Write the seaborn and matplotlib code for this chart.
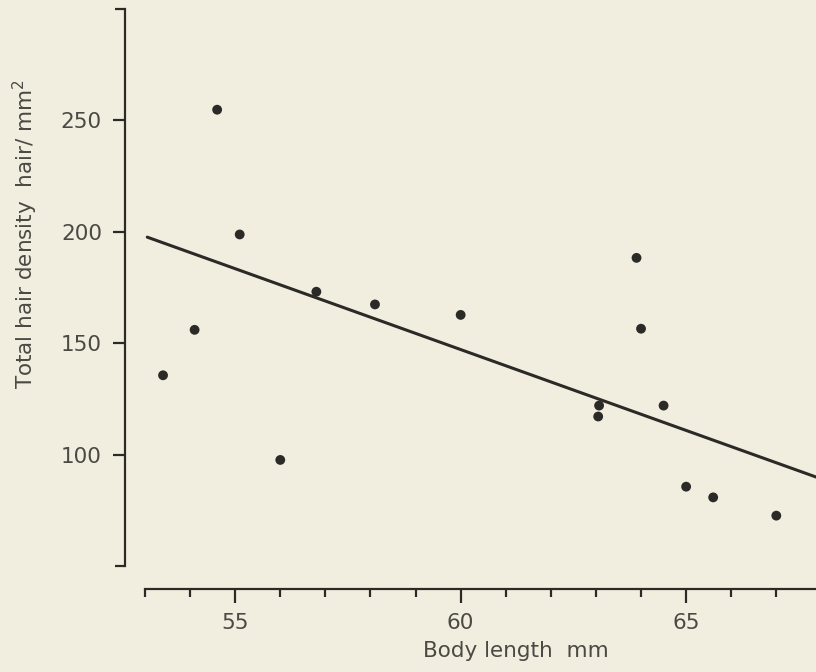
import numpy as np
import pandas as pd
import matplotlib

matplotlib.use("Agg")
import matplotlib.pyplot as plt
from matplotlib.ticker import FixedLocator
import seaborn as sns

# values
body_length = [53.4, 54.1, 54.6, 55.1, 56.0, 56.8, 58.1, 60.0,
               63.05, 63.07, 63.9, 64.0, 64.5, 65.0, 65.6, 67.0]
hair_density = [135.6, 156.0, 254.8, 198.8, 97.6, 173.1, 167.4, 162.7,
                117.1, 122.0, 188.3, 156.5, 122.0, 85.6, 80.8, 72.6]

# regression line as printed (end points)
fit_length = [53.05, 67.9]
fit_density = [197.6, 89.8]

x_major = [55, 60, 65]
x_minor = list(range(53, 68))
y_major = [100, 150, 200, 250]
y_ends = [50, 300]

paper = '#f2eedf'
ink = '#2c2a27'
text_col = '#4a4944'

sns.set_theme(style='ticks')
plt.rcParams.update({
    'font.family': ['DejaVu Sans'],
    'font.size': 15.5,
    'mathtext.fontset': 'dejavusans',
    'figure.facecolor': paper,
    'axes.facecolor': paper,
    'axes.edgecolor': ink,
    'axes.linewidth': 1.6,
    'xtick.color': ink,
    'ytick.color': ink,
    'xtick.labelcolor': text_col,
    'ytick.labelcolor': text_col,
    'text.color': text_col,
    'axes.labelcolor': text_col,
})

df = pd.DataFrame({'length': body_length, 'density': hair_density})
fit = pd.DataFrame({'length': fit_length, 'density': fit_density})

fig = plt.figure(figsize=(8.16, 6.72), dpi=100)
ax = fig.add_axes([145 / 816, 106 / 672, 671 / 816, 557 / 672])

sns.lineplot(data=fit, x='length', y='density', color=ink, linewidth=2.2, ax=ax)
sns.scatterplot(data=df, x='length', y='density', color=ink, s=50,
                edgecolor='none', ax=ax, zorder=3)

ax.set_xlim(53, 67.88)
ax.set_ylim(50, 300)

# detached axes like the printed figure
sns.despine(ax=ax, top=True, right=True)
ax.spines['left'].set_position(('outward', 14.4))
ax.spines['bottom'].set_position(('outward', 16.6))
ax.spines['left'].set_capstyle('projecting')
ax.spines['bottom'].set_capstyle('projecting')

ax.xaxis.set_major_locator(FixedLocator(x_major))
ax.xaxis.set_minor_locator(FixedLocator(x_minor))
ax.yaxis.set_major_locator(FixedLocator(y_major))
ax.yaxis.set_minor_locator(FixedLocator(y_ends))

ax.tick_params(axis='x', which='major', direction='out', length=10, width=1.6, pad=7, labelsize=15.5)
ax.tick_params(axis='x', which='minor', direction='out', length=5.8, width=1.6)
ax.tick_params(axis='y', which='major', direction='out', length=8.6, width=1.6, pad=8, labelsize=15.5)
ax.tick_params(axis='y', which='minor', direction='out', length=7.5, width=1.6)

ax.set_xlabel('Body length  mm', fontsize=15.5)
ax.set_ylabel('Total hair density  hair/ mm$^{2}$', fontsize=15.5)
ax.xaxis.set_label_coords(0.553, -0.135)
ax.yaxis.set_label_coords(-0.1565, 0.595)

fig.savefig('out.png', dpi=100, facecolor=paper)
plt.close(fig)
